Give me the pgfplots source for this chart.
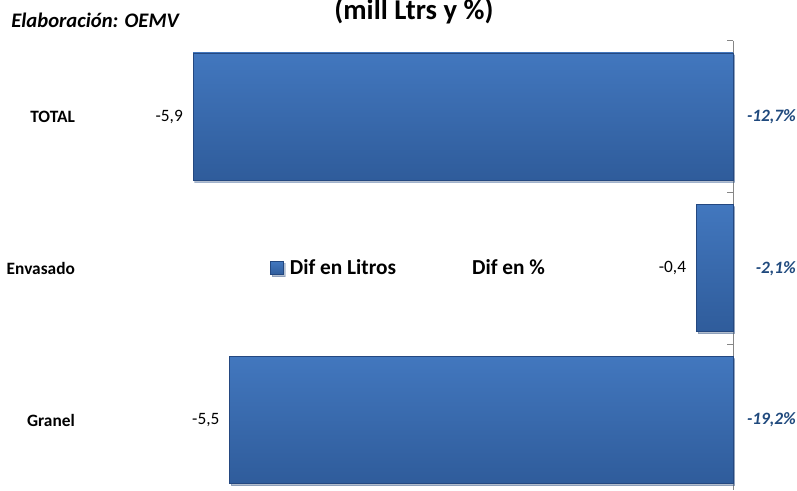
\documentclass[border=0pt]{standalone}
\usepackage{pgfplots}
\pgfplotsset{compat=1.18}
\usetikzlibrary{shadows}
\usepackage{fontspec}
\setmainfont{Carlito}
\definecolor{bartop}{RGB}{66,119,190}
\definecolor{barbot}{RGB}{47,92,155}
\definecolor{baredge}{RGB}{36,72,128}
\definecolor{pctblue}{RGB}{31,73,125}
\definecolor{axgray}{RGB}{134,134,134}
\pgfplotstableread{
x y label
-5.9 0 {-5,9}
}\total
\pgfplotstableread{
x y label
-0.4 1 {-0,4}
}\envasado
\pgfplotstableread{
x y label
-5.5 2 {-5,5}
}\granel
\pgfplotsset{
  mybar/.style={xbar, bar width=0.837, bar shift=0pt,
    top color=bartop, bottom color=barbot, draw=baredge, line width=0.5pt,
    drop shadow={shadow xshift=1.2pt, shadow yshift=-1.5pt, opacity=0.25},
    nodes near coords, point meta=explicit symbolic,
    every node near coord/.append style={anchor=east, inner sep=0pt, xshift=-7.5pt,
      font=\fontsize{13}{15}\selectfont, text=black}},
}
\begin{document}
\begin{tikzpicture}[x=1pt,y=1pt]
\path[use as bounding box] (0,0) rectangle (597.75,367.5);
\begin{axis}[
  at={(0.75pt,0pt)}, anchor=south west, scale only axis,
  width=549pt, height=337.05pt,
  xmin=-8, xmax=0, ymin=-0.5, ymax=2.461,
  y dir=reverse,
  axis x line=none,
  axis y line*=right,
  ytick={-0.5,0.5,1.5,2.5}, yticklabels={},
  y axis line style={draw=axgray, line width=0.75pt},
  ytick style={draw=axgray, line width=0.75pt},
  major tick length=4.5pt, tick align=inside,
  clip=false,
  legend style={at={(axis cs:-5.06,1)}, anchor=west, draw=none, fill=none,
    inner sep=0pt, font=\fontsize{16}{19}\bfseries\selectfont,
    /tikz/every odd column/.append style={column sep=2.5pt},
    /tikz/every even column/.append style={column sep=50.5pt}},
  legend columns=2,
]
\addplot[mybar,
  legend image code/.code={\fill[top color=bartop, bottom color=barbot, draw=baredge] (0pt,-4.875pt) rectangle (9.75pt,4.875pt);}
] table[x=x, y=y, meta=label] {\total};
\addlegendentry{Dif en Litros}
\addplot[mybar, forget plot] table[x=x, y=y, meta=label] {\envasado};
\addplot[mybar, forget plot] table[x=x, y=y, meta=label] {\granel};
\addlegendimage{empty legend}
\addlegendentry{Dif en \%}

\node[anchor=east, inner sep=0pt, font=\fontsize{13}{15}\bfseries\itshape\selectfont, text=pctblue] at (axis cs:0.689,0) {-12,7\%};
\node[anchor=east, inner sep=0pt, font=\fontsize{13}{15}\bfseries\itshape\selectfont, text=pctblue] at (axis cs:0.689,1) {-2,1\%};
\node[anchor=east, inner sep=0pt, font=\fontsize{13}{15}\bfseries\itshape\selectfont, text=pctblue] at (axis cs:0.689,2) {-19,2\%};

\node[anchor=east, inner sep=0pt, font=\fontsize{13}{15}\bfseries\selectfont] at (axis cs:-7.19,0) {TOTAL};
\node[anchor=east, inner sep=0pt, font=\fontsize{13}{15}\bfseries\selectfont] at (axis cs:-7.19,1) {Envasado};
\node[anchor=east, inner sep=0pt, font=\fontsize{13}{15}\bfseries\selectfont] at (axis cs:-7.19,2) {Granel};
\end{axis}
\node[anchor=base, font=\fontsize{21.5}{25}\bfseries\selectfont] at (310.5,352.5) {(mill Ltrs y \%)};
\node[anchor=base west, inner sep=0pt, font=\fontsize{15.5}{19}\bfseries\itshape\selectfont] at (8.25,347) {Elaboración: OEMV};
\end{tikzpicture}
\end{document}
